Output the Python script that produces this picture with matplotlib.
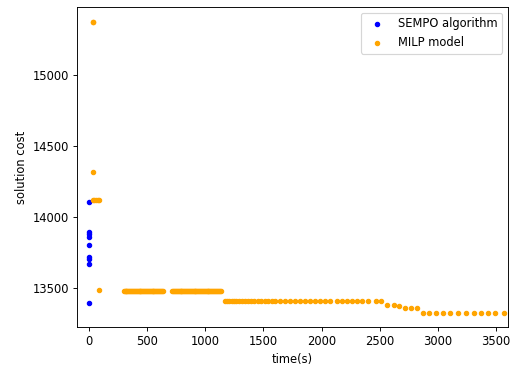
import matplotlib
matplotlib.use("Agg")
from matplotlib import pyplot as plt

# SEMPO algorithm results (all found at t ~ 0)
sempo_time = [0, 0, 0, 0, 0, 0, 0, 0, 0]
sempo_cost = [14106, 13899, 13882, 13859, 13803, 13720, 13704, 13669, 13394]

# MILP model incumbent solutions
milp_time = [30, 38, 37,
             30, 45, 60, 75, 90,
             86,
             # plateau 1 (~13481)
             298, 306, 314, 322, 330, 338, 346, 354, 362, 370, 378, 386, 394,
             402, 410, 418, 426, 434, 442, 450, 458, 466, 474, 482, 490, 498,
             506, 514, 522, 530, 538, 546, 554, 562, 570, 578, 586, 594, 602,
             610, 618, 626, 634,
             715, 723, 731, 739, 747, 755, 763, 771, 779, 787, 795, 803, 811,
             819, 827, 835, 843, 851, 859, 867, 875, 883, 891, 899, 907, 915,
             923, 931, 939, 947, 955, 963, 971, 979, 987, 995, 1003, 1011,
             1019, 1027, 1035, 1043, 1051, 1059, 1067, 1075, 1083, 1091, 1099,
             1107, 1115, 1123, 1135,
             # plateau 2 (~13410)
             1165, 1185, 1205, 1225, 1245, 1265, 1290, 1315, 1340, 1365, 1390,
             1420, 1450, 1480, 1510, 1540, 1570, 1600, 1638, 1681, 1724, 1767,
             1810, 1858, 1901, 1944, 1987, 2030, 2073, 2131, 2174, 2217, 2263,
             2306, 2349, 2398, 2469, 2512,
             # staircase
             2560, 2620, 2663, 2715, 2769, 2818,
             2869, 2926, 2984, 3041, 3104, 3170, 3241, 3313, 3370, 3433, 3493, 3570]
milp_cost = [15377, 15377, 14319,
             14124, 14124, 14124, 14124, 14124,
             13491] + [13481] * 43 + [13481] * 53 + [13410] * 38 + \
            [13384, 13384, 13375, 13361, 13361, 13361] + [13329] * 12

fig = plt.figure(figsize=(516 / 83, 370 / 83), dpi=83)
ax = fig.add_axes([0.150, 0.116, 0.834, 0.865])

ax.scatter(sempo_time, sempo_cost, s=14, color='blue', label='SEMPO algorithm')
ax.scatter(milp_time, milp_cost, s=14, color='orange', label='MILP model')

ax.set_xlim(-100, 3600)
ax.set_xlabel('time(s)')
ax.set_ylabel('solution cost')
ax.legend(loc='upper right')

fig.savefig('out.png', dpi=83)
